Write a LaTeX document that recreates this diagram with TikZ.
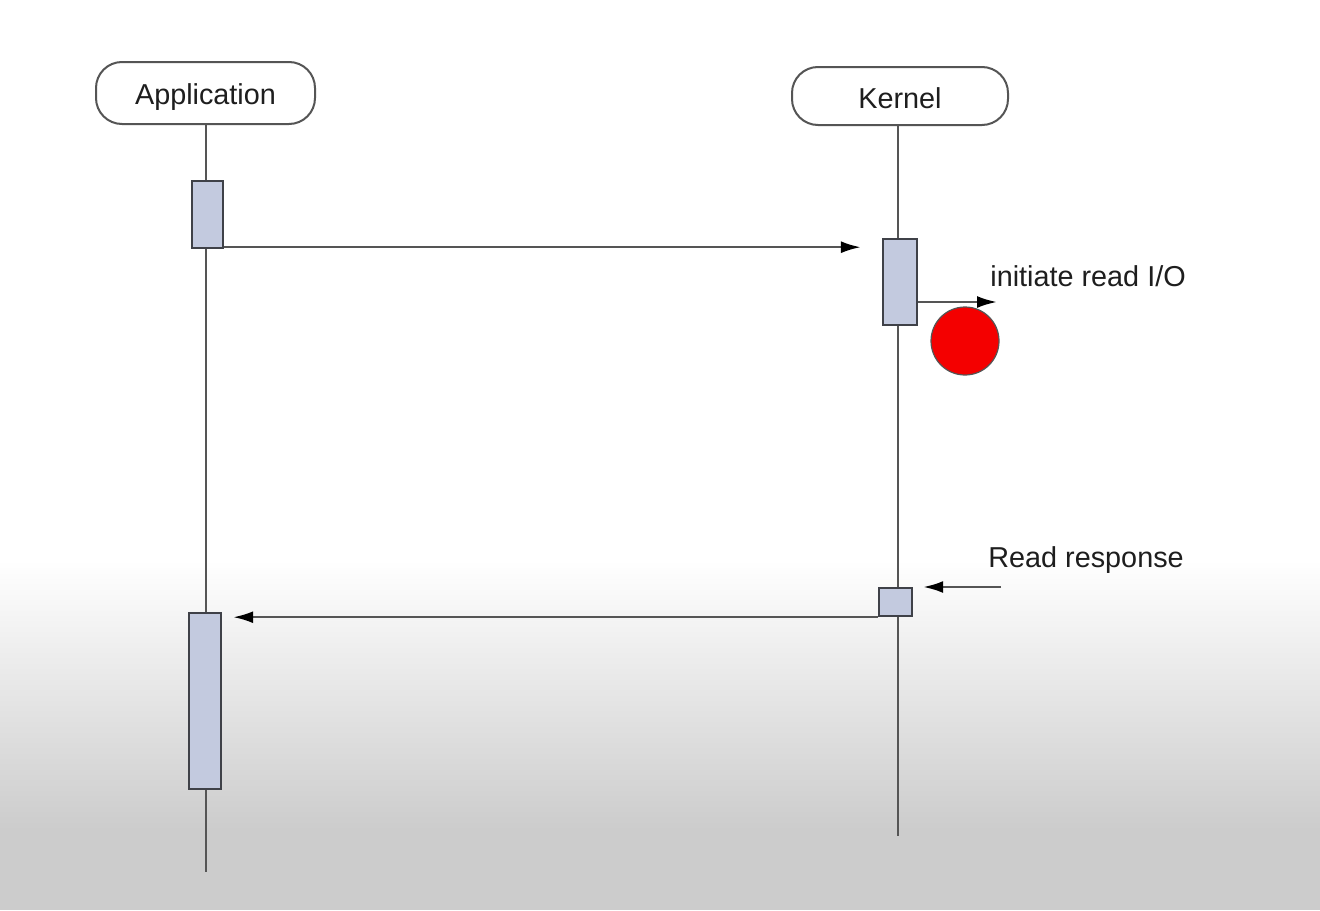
\documentclass[tikz,border=0pt]{standalone}
\usepackage{fontspec}
\usepackage{xcolor}
\setmainfont{Liberation Sans}
\usetikzlibrary{arrows.meta}

\begin{document}
\begin{tikzpicture}[
    x=0.5pt, y=-0.5pt,
    font=\fontsize{14.4}{17}\selectfont,
    >={Latex[length=10pt,width=6pt,color=black]},
    actor/.style={draw=vline, line width=1pt, fill=white, rounded corners=13pt,
        minimum width=#1, minimum height=29pt, inner sep=0pt, text=vtext},
    actbox/.style={draw=vbox, line width=1.2pt, fill=vfill, inner sep=0pt},
    lifeline/.style={vline, line width=1.2pt},
    msg/.style={->, vline, line width=1.2pt}
]

\definecolor{vline}{HTML}{555555}
\definecolor{vbox}{HTML}{3F4148}
\definecolor{vfill}{HTML}{C3CADF}
\definecolor{vtext}{HTML}{1E1E1E}
\definecolor{vred}{HTML}{F40000}

% ==========================================
% 1. BACKGROUND
% ==========================================

\useasboundingbox (0, 0) rectangle (1320, 910);
\fill[white] (0, 0) rectangle (1320, 560);
\shade[top color=white, bottom color=black!20] (0, 560) rectangle (1320, 830);
\fill[black!20] (0, 830) rectangle (1320, 910);

% ==========================================
% 2. ACTORS & LIFELINES
% ==========================================

\node[actor=109.5pt, minimum height=31pt] (app) at (205.5, 93) {\raisebox{-5.7pt}[0pt][0pt]{Application}};
\node[actor=108pt] (kernel) at (900, 96) {\raisebox{-6.2pt}[0pt][0pt]{Kernel}};

\coordinate (append) at (206, 872);
\coordinate (kernelend) at (898, 836);

\draw[lifeline] (app.south -| append) -- (append);
\draw[lifeline] (kernel.south -| kernelend) -- (kernelend);

% ==========================================
% 3. ACTIVATION BOXES
% ==========================================

\node[actbox, minimum width=15.5pt, minimum height=33.5pt] (appact1) at (207.5, 214.5) {};
\node[actbox, minimum width=17pt, minimum height=43pt] (kact1) at (900, 282) {};
\node[actbox, minimum width=16.5pt, minimum height=14pt] (kact2) at (895.5, 602) {};
\node[actbox, minimum width=16pt, minimum height=88pt] (appact2) at (205, 701) {};

% ==========================================
% 4. MESSAGES
% ==========================================

\coordinate (ioend) at (997, 302);
\coordinate (rrstart) at (1001, 587);

\draw[msg, shorten >=10.5pt] ([yshift=1pt]appact1.south east) -- ([yshift=1pt]appact1.south east -| kact1.west);
\draw[msg] (kact1.east |- ioend) -- (ioend);
\draw[msg, shorten >=5pt] (rrstart) -- (rrstart -| kact2.east);
\draw[msg, shorten >=5.5pt] (kact2.south west) -- (kact2.south west -| appact2.east);

% Red stop marker
\node[circle, draw=vline, line width=0.6pt, fill=vred, minimum size=34pt, inner sep=0pt] (stop) at (965, 341) {};

% ==========================================
% 5. LABELS
% ==========================================

\node[anchor=west, inner sep=0pt, text=vtext] (iolabel) at (990, 276) {initiate read I/O};
\node[anchor=west, inner sep=0pt, text=vtext] (rrlabel) at (988, 560) {Read response};

\end{tikzpicture}
\end{document}
